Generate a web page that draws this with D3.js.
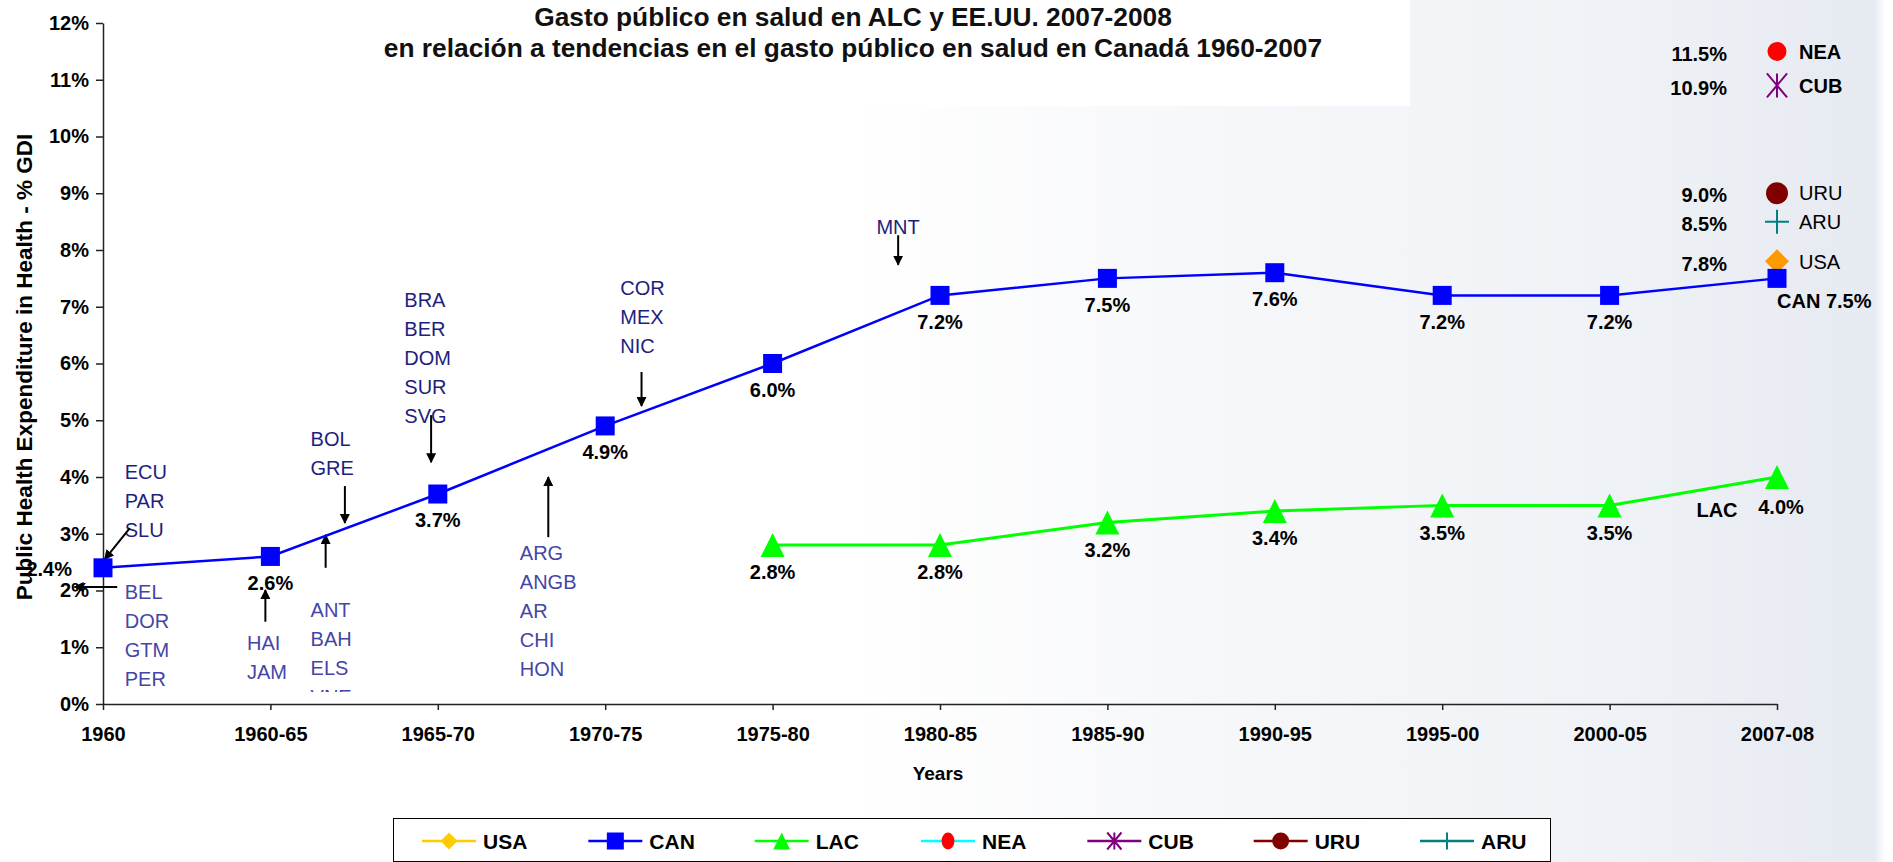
<!DOCTYPE html>
<html>
<head>
<meta charset="utf-8">
<script src="https://cdn.jsdelivr.net/npm/d3@7"></script>
<style>
  body { margin: 0; background: #fff; }
  svg { display: block; font-family: Arial, "Liberation Sans", sans-serif; }
</style>
</head>
<body>
<svg id="chart" width="1893" height="862"></svg>
<script>
// periods on the x axis
const periods = ['1960', '1960-65', '1965-70', '1970-75', '1975-80', '1980-85',
  '1985-90', '1990-95', '1995-00', '2000-05', '2007-08'];
// public health expenditure, % GDI
const canValues = [2.4, 2.6, 3.7, 4.9, 6.0, 7.2, 7.5, 7.6, 7.2, 7.2, 7.5];
const lacValues = [null, null, null, null, 2.8, 2.8, 3.2, 3.4, 3.5, 3.5, 4.0];
// single 2007-08 values
const latestCodes = ['NEA', 'CUB', 'URU', 'ARU', 'USA'];
const latestValues = [11.5, 10.9, 9.0, 8.5, 7.8];
const yTicks = [0, 1, 2, 3, 4, 5, 6, 7, 8, 9, 10, 11, 12];
const legendNames = ['USA', 'CAN', 'LAC', 'NEA', 'CUB', 'URU', 'ARU'];

// country annotations: position is period index / % value
const noteGroups = [
  { names: ['ECU', 'PAR', 'SLU'], at: [0.13, 4.09], dark: true },
  { names: ['BEL', 'DOR', 'GTM', 'PER'], at: [0.13, 1.97], dark: false },
  { names: ['HAI', 'JAM'], at: [0.86, 1.07], dark: false },
  { names: ['BOL', 'GRE'], at: [1.24, 4.67], dark: true },
  { names: ['ANT', 'BAH', 'ELS', 'VNE'], at: [1.24, 1.66], dark: false },
  { names: ['BRA', 'BER', 'DOM', 'SUR', 'SVG'], at: [1.8, 7.12], dark: true },
  { names: ['ARG', 'ANGB', 'AR', 'CHI', 'HON'], at: [2.49, 2.66], dark: false },
  { names: ['COR', 'MEX', 'NIC'], at: [3.09, 7.33], dark: true },
  { names: ['MNT'], at: [4.62, 8.41], dark: true }
];
// arrows: [from index, from value, to index, to value]
const noteArrows = [
  [0.16, 3.10, 0.01, 2.55],
  [0.085, 2.06, -0.17, 2.06],
  [0.97, 1.45, 0.97, 2.01],
  [1.33, 2.40, 1.33, 2.98],
  [1.445, 3.84, 1.445, 3.19],
  [1.96, 5.09, 1.96, 4.26],
  [2.66, 2.94, 2.66, 4.0],
  [3.217, 5.85, 3.217, 5.25],
  [4.75, 8.26, 4.75, 7.74]
];

const svg = d3.select('#chart');
const W = 1893, H = 862;

// faint background
const defs = svg.append('defs');
const bg = defs.append('linearGradient').attr('id', 'bg');
bg.append('stop').attr('offset', '0').attr('stop-color', '#ffffff');
bg.append('stop').attr('offset', '0.45').attr('stop-color', '#ffffff');
bg.append('stop').attr('offset', '0.62').attr('stop-color', '#f7f8fa');
bg.append('stop').attr('offset', '0.85').attr('stop-color', '#eff2f6');
bg.append('stop').attr('offset', '0.99').attr('stop-color', '#e6eaf1');
bg.append('stop').attr('offset', '0.996').attr('stop-color', '#ffffff');
svg.append('rect').attr('width', W).attr('height', H).attr('fill', 'url(#bg)');
svg.append('rect').attr('width', 1410).attr('height', 106).attr('fill', '#fff');

defs.append('marker')
  .attr('id', 'arrow')
  .attr('viewBox', '0 0 10 10')
  .attr('refX', 9).attr('refY', 5)
  .attr('markerWidth', 10).attr('markerHeight', 10)
  .attr('markerUnits', 'userSpaceOnUse')
  .attr('orient', 'auto')
  .append('path').attr('d', 'M0,0L10,5L0,10Z').attr('fill', '#000');

defs.append('clipPath').attr('id', 'noteClip')
  .append('rect').attr('x', 0).attr('y', 0).attr('width', W).attr('height', 692);

const x = d3.scalePoint().domain(periods).range([103, 1777]).padding(0);
const xi = d3.scaleLinear().domain([0, periods.length - 1]).range(x.range());
const y = d3.scaleLinear().domain([0, 12]).range([704, 23]);

// title
const title = svg.append('text')
  .attr('text-anchor', 'middle')
  .attr('font-weight', 'bold')
  .attr('font-size', 26.3)
  .attr('fill', '#111');
title.append('tspan').attr('x', 853).attr('y', 26).text('Gasto público en salud en ALC y EE.UU. 2007-2008');
title.append('tspan').attr('x', 853).attr('y', 57).text('en relación a tendencias en el gasto público en salud en Canadá 1960-2007');

// axes
const yAxis = svg.append('g')
  .attr('transform', `translate(${x.range()[0]},0)`)
  .call(d3.axisLeft(y).tickValues(yTicks).tickFormat(d => d + '%').tickSize(7).tickSizeOuter(0).tickPadding(7));
const xAxis = svg.append('g')
  .attr('transform', `translate(0,${y(0)})`)
  .call(d3.axisBottom(x).tickSize(6).tickSizeOuter(0).tickPadding(17));
[yAxis, xAxis].forEach(a => {
  a.selectAll('text').attr('font-size', 20).attr('font-weight', 'bold').attr('fill', '#000')
    .attr('font-family', 'Arial, "Liberation Sans", sans-serif');
  a.selectAll('path, line').attr('stroke', '#222').attr('stroke-width', 1.5);
});

svg.append('text')
  .attr('x', x.range()[0] + (x.range()[1] - x.range()[0]) / 2 - 2)
  .attr('y', 780)
  .attr('text-anchor', 'middle')
  .attr('font-size', 19).attr('font-weight', 'bold')
  .text('Years');

svg.append('text')
  .attr('transform', 'translate(32,367) rotate(-90)')
  .attr('text-anchor', 'middle')
  .attr('font-size', 22.5).attr('font-weight', 'bold')
  .text('Public Health Expenditure in Health - % GDI');

// country annotations
const notes = svg.append('g').attr('clip-path', 'url(#noteClip)');
noteGroups.forEach(g => {
  g.names.forEach((n, k) => {
    notes.append('text')
      .attr('x', xi(g.at[0]))
      .attr('y', y(g.at[1]) + k * 29)
      .attr('dy', '0.36em')
      .attr('font-size', 20)
      .attr('fill', g.dark ? '#1e1e7e' : '#4545a6')
      .text(n);
  });
});
noteArrows.forEach(a => {
  svg.append('line')
    .attr('x1', xi(a[0])).attr('y1', y(a[1]))
    .attr('x2', xi(a[2])).attr('y2', y(a[3]))
    .attr('stroke', '#000').attr('stroke-width', 2)
    .attr('marker-end', 'url(#arrow)');
});

function drawMarker(g, type, color, s) {
  if (type === 'square') {
    g.append('rect').attr('x', -s / 2).attr('y', -s / 2).attr('width', s).attr('height', s).attr('fill', color);
  } else if (type === 'triangle') {
    g.append('path').attr('d', `M0,${-s / 2}L${s / 2},${s / 2}L${-s / 2},${s / 2}Z`).attr('fill', color);
  } else if (type === 'diamond') {
    g.append('path').attr('d', `M0,${-s / 2}L${s / 2},0L0,${s / 2}L${-s / 2},0Z`).attr('fill', color);
  } else if (type === 'circle') {
    g.append('circle').attr('r', s / 2).attr('fill', color);
  } else if (type === 'ellipse') {
    g.append('ellipse').attr('rx', s * 0.38).attr('ry', s / 2).attr('fill', color);
  } else if (type === 'star') {
    const h = s / 2, w = s * 0.42;
    g.append('path').attr('d', `M0,${-h}V${h}M${-w},${-h}L${w},${h}M${w},${-h}L${-w},${h}`)
      .attr('stroke', color).attr('stroke-width', 2).attr('fill', 'none');
  } else if (type === 'plus') {
    g.append('path').attr('d', `M0,${-s / 2}V${s / 2}M${-s / 2},0H${s / 2}`)
      .attr('stroke', color).attr('stroke-width', 2).attr('fill', 'none');
  }
}

// series lines
const line = d3.line()
  .defined(d => d.v != null)
  .x(d => x(d.p))
  .y(d => y(d.v));
const canData = periods.map((p, i) => ({ p, v: canValues[i] }));
const lacData = periods.map((p, i) => ({ p, v: lacValues[i] }));

svg.append('path').datum(lacData).attr('d', line)
  .attr('fill', 'none').attr('stroke', '#00ff00').attr('stroke-width', 3);
lacData.filter(d => d.v != null).forEach(d => {
  drawMarker(svg.append('g').attr('transform', `translate(${x(d.p)},${y(d.v)})`), 'triangle', '#00ff00', 24);
});

// 2007-08 single points
const latestStyle = {
  NEA: ['circle', '#ff0000', 19, true],
  CUB: ['star', '#800080', 24, true],
  URU: ['circle', '#800000', 22, false],
  ARU: ['plus', '#008080', 24, false],
  USA: ['diamond', '#ff9900', 24, false]
};
const last = periods[periods.length - 1];
latestCodes.forEach((c, i) => {
  const st = latestStyle[c];
  const cy = y(latestValues[i]);
  drawMarker(svg.append('g').attr('transform', `translate(${x(last)},${cy})`), st[0], st[1], st[2]);
  svg.append('text')
    .attr('x', x(last) - 50).attr('y', cy + 2).attr('dy', '0.36em')
    .attr('text-anchor', 'end').attr('font-size', 20).attr('font-weight', 'bold')
    .text(d3.format('.1f')(latestValues[i]) + '%');
  svg.append('text')
    .attr('x', x(last) + 22).attr('y', cy).attr('dy', '0.36em')
    .attr('font-size', 20).attr('font-weight', st[3] ? 'bold' : 'normal')
    .text(c);
});

svg.append('path').datum(canData).attr('d', line)
  .attr('fill', 'none').attr('stroke', '#0000ff').attr('stroke-width', 2.5);
canData.forEach(d => {
  drawMarker(svg.append('g').attr('transform', `translate(${x(d.p)},${y(d.v)})`), 'square', '#0000ff', 19);
});

// value labels
const fmt = v => d3.format('.1f')(v) + '%';
canData.forEach((d, i) => {
  const t = svg.append('text').attr('font-size', 20).attr('font-weight', 'bold').attr('dy', '0.36em');
  if (i === 0) {
    t.attr('x', x(d.p) - 31).attr('y', y(d.v) + 1).attr('text-anchor', 'end').text(fmt(d.v));
  } else if (i === canData.length - 1) {
    t.attr('x', x(d.p)).attr('y', y(d.v) + 22).attr('text-anchor', 'start').text('CAN ' + fmt(d.v));
  } else {
    t.attr('x', x(d.p)).attr('y', y(d.v) + 26).attr('text-anchor', 'middle').text(fmt(d.v));
  }
});
lacData.filter(d => d.v != null).forEach((d, i, arr) => {
  const t = svg.append('text').attr('font-size', 20).attr('font-weight', 'bold').attr('dy', '0.36em')
    .attr('text-anchor', 'middle');
  if (i === arr.length - 1) {
    t.attr('x', x(d.p) + 4).attr('y', y(d.v) + 30).text(fmt(d.v));
    svg.append('text').attr('font-size', 20).attr('font-weight', 'bold').attr('dy', '0.36em')
      .attr('text-anchor', 'middle').attr('x', x(d.p) - 60).attr('y', y(d.v) + 33).text('LAC');
  } else {
    t.attr('x', x(d.p)).attr('y', y(d.v) + 27).text(fmt(d.v));
  }
});

// legend
const legendLine = ['#ffcc00', '#0000ff', '#00ff00', '#00ffff', '#800080', '#800000', '#008080'];
const legendMark = [['diamond', '#ffcc00'], ['square', '#0000ff'], ['triangle', '#00ff00'], ['ellipse', '#ff0000'],
  ['star', '#800080'], ['circle', '#800000'], ['plus', '#008080']];
svg.append('rect').attr('x', 393.5).attr('y', 818.5).attr('width', 1157).attr('height', 43)
  .attr('fill', '#fff').attr('stroke', '#000').attr('stroke-width', 1);
const lx = d3.scalePoint().domain(legendNames).range([449, 1447]);
legendNames.forEach((n, i) => {
  const cx = lx(n), cy = 841;
  svg.append('line').attr('x1', cx - 27).attr('x2', cx + 27).attr('y1', cy).attr('y2', cy)
    .attr('stroke', legendLine[i]).attr('stroke-width', 2.5);
  drawMarker(svg.append('g').attr('transform', `translate(${cx},${cy})`), legendMark[i][0], legendMark[i][1], 17);
  svg.append('text').attr('x', cx + 34).attr('y', cy).attr('dy', '0.36em')
    .attr('font-size', 21).attr('font-weight', 'bold').text(n);
});
</script>
</body>
</html>
